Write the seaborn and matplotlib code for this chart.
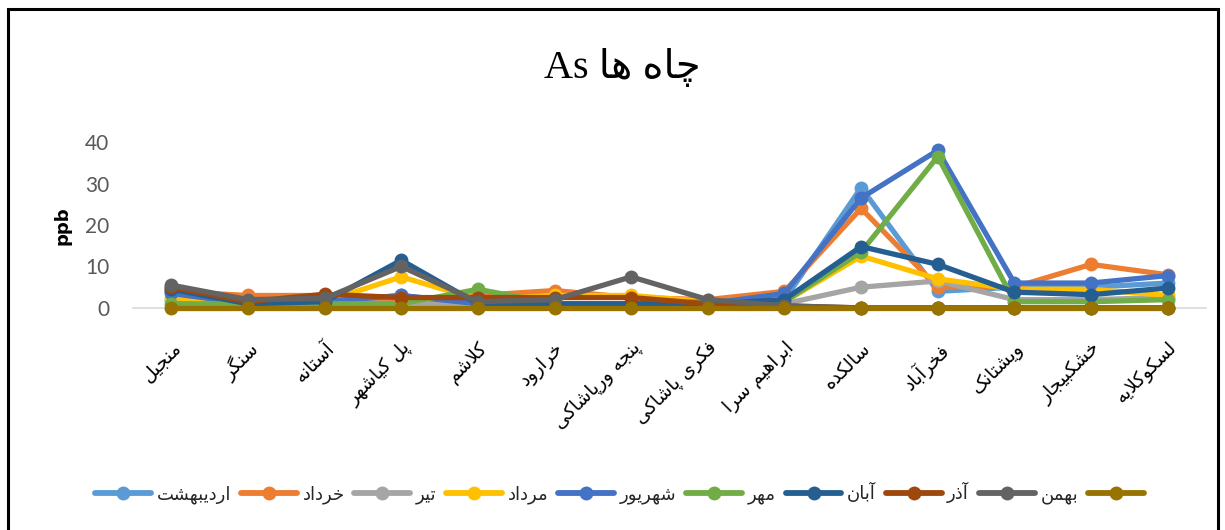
import matplotlib
matplotlib.use("Agg")
import matplotlib.pyplot as plt
from matplotlib.lines import Line2D
from matplotlib.patches import Rectangle
import numpy as np
import pandas as pd
import seaborn as sns

# ---------------------------------------------------------------- data
stations = ["منجیل", "سنگر", "آستانه", "پل کیاشهر", "کلاشم", "خرارود",
            "پنجه ورپاشاکی", "فکری پاشاکی", "ابراهیم سرا", "سالکده",
            "فخرآباد", "ویشتانک", "خشکبیجار", "لسکوکلایه"]

months = ["اردیبهشت", "خرداد", "تیر", "مرداد", "شهریور", "مهر",
          "آبان", "آذر", "بهمن", ""]

ordibehesht = [4.0, 1.5, 1.5, 3.0, 1.0, 1.0, 1.0, 1.0, 2.0, 29.0, 4.0, 5.0, 5.0, 6.0]
khordad     = [4.0, 3.0, 3.0, 2.0, 3.0, 4.2, 2.5, 2.0, 4.0, 24.0, 5.0, 5.0, 10.5, 8.0]
tir         = [2.0, 2.0, 1.5, 1.0, 1.0, 1.0, 1.0, 1.5, 1.0, 5.0, 6.5, 2.0, 2.0, 2.5]
mordad      = [2.5, 1.0, 1.5, 7.5, 2.0, 3.0, 3.0, 1.5, 1.5, 12.5, 7.0, 4.5, 4.5, 3.0]
shahrivar   = [3.5, 1.0, 1.5, 3.0, 1.0, 1.0, 1.0, 1.0, 3.5, 26.5, 38.0, 6.0, 6.0, 7.8]
mehr        = [1.0, 1.0, 1.0, 1.0, 4.5, 1.0, 1.0, 1.5, 1.5, 13.5, 36.5, 1.5, 1.5, 2.0]
aban        = [4.5, 1.0, 1.5, 11.5, 1.0, 1.0, 1.0, 1.0, 2.0, 14.8, 10.5, 3.8, 3.2, 4.8]
azar        = [5.0, 1.5, 3.3, 2.5, 2.5, 2.5, 2.5, 1.0, 0.5, 0.0, 0.0, 0.0, 0.0, 0.0]
bahman      = [5.5, 2.0, 2.3, 10.0, 1.5, 2.0, 7.5, 2.0, 0.5, 0.0, 0.0, 0.0, 0.0, 0.0]
esfand      = [0.0] * 14

series = [ordibehesht, khordad, tir, mordad, shahrivar, mehr, aban, azar, bahman, esfand]

colors = ["#5B9BD5", "#ED7D31", "#A5A5A5", "#FFC000", "#4472C4", "#70AD47",
          "#255E91", "#9E480E", "#636363", "#997300"]

title_text = "چاه ها As"
y_label = "ppb"
y_ticks = [0, 10, 20, 30, 40]

# ------------------------------------------------ Persian text shaping
# (isolated, final, initial, medial); two-form letters only join to the right
FORMS = {
    "ا": ("\uFE8D", "\uFE8E"), "آ": ("\uFE81", "\uFE82"),
    "ب": ("\uFE8F", "\uFE90", "\uFE91", "\uFE92"),
    "پ": ("\uFB56", "\uFB57", "\uFB58", "\uFB59"),
    "ت": ("\uFE95", "\uFE96", "\uFE97", "\uFE98"),
    "ث": ("\uFE99", "\uFE9A", "\uFE9B", "\uFE9C"),
    "ج": ("\uFE9D", "\uFE9E", "\uFE9F", "\uFEA0"),
    "چ": ("\uFB7A", "\uFB7B", "\uFB7C", "\uFB7D"),
    "ح": ("\uFEA1", "\uFEA2", "\uFEA3", "\uFEA4"),
    "خ": ("\uFEA5", "\uFEA6", "\uFEA7", "\uFEA8"),
    "د": ("\uFEA9", "\uFEAA"), "ذ": ("\uFEAB", "\uFEAC"),
    "ر": ("\uFEAD", "\uFEAE"), "ز": ("\uFEAF", "\uFEB0"),
    "ژ": ("\uFB8A", "\uFB8B"),
    "س": ("\uFEB1", "\uFEB2", "\uFEB3", "\uFEB4"),
    "ش": ("\uFEB5", "\uFEB6", "\uFEB7", "\uFEB8"),
    "ف": ("\uFED1", "\uFED2", "\uFED3", "\uFED4"),
    "ق": ("\uFED5", "\uFED6", "\uFED7", "\uFED8"),
    "ک": ("\uFB8E", "\uFB8F", "\uFB90", "\uFB91"),
    "گ": ("\uFB92", "\uFB93", "\uFB94", "\uFB95"),
    "ل": ("\uFEDD", "\uFEDE", "\uFEDF", "\uFEE0"),
    "م": ("\uFEE1", "\uFEE2", "\uFEE3", "\uFEE4"),
    "ن": ("\uFEE5", "\uFEE6", "\uFEE7", "\uFEE8"),
    "و": ("\uFEED", "\uFEEE"),
    "ه": ("\uFEE9", "\uFEEA", "\uFEEB", "\uFEEC"),
    "ی": ("\uFBFC", "\uFBFD", "\uFBFE", "\uFBFF"),
}
LAM_ALEF = {"ا": ("\uFEFB", "\uFEFC"), "آ": ("\uFEF5", "\uFEF6")}


def joins_left(ch):
    return ch in FORMS and len(FORMS[ch]) == 4


def shape_word(word):
    out = []
    i = 0
    n = len(word)
    while i < n:
        ch = word[i]
        prev_join = i > 0 and joins_left(word[i - 1])
        if ch == "ل" and i + 1 < n and word[i + 1] in LAM_ALEF:
            out.append(LAM_ALEF[word[i + 1]][1 if prev_join else 0])
            i += 2
            continue
        if ch not in FORMS:
            out.append(ch)
            i += 1
            continue
        forms = FORMS[ch]
        next_join = len(forms) == 4 and i + 1 < n and word[i + 1] in FORMS
        if prev_join and next_join:
            out.append(forms[3])
        elif prev_join:
            out.append(forms[1])
        elif next_join:
            out.append(forms[2])
        else:
            out.append(forms[0])
        i += 1
    return "".join(out)


def rtl(text):
    words = text.split(" ")
    vis = []
    for w in reversed(words):
        if any(c in FORMS for c in w):
            vis.append(shape_word(w)[::-1])
        else:
            vis.append(w)
    return " ".join(vis)


# ---------------------------------------------------------------- frame
sns.set_theme(style="white")
plt.rcParams["font.family"] = ["Lato", "DejaVu Sans"]

long = pd.DataFrame({
    "station": np.tile([rtl(s) for s in stations], len(series)),
    "month": np.repeat([f"m{k}" for k in range(len(series))], len(stations)),
    "value": np.concatenate(series),
})

fig = plt.figure(figsize=(12.25, 5.3), dpi=100)
ax = fig.add_axes([0.1086, 0.419, 0.8759, 0.313])

sns.lineplot(data=long, x="station", y="value", hue="month",
             palette=colors, sort=False, marker="o", markersize=10,
             markeredgewidth=0, linewidth=3.8, legend=False, ax=ax)
for ln in ax.lines:
    ln.set_clip_on(False)
    ln.set_solid_capstyle("round")
    ln.set_solid_joinstyle("round")

ax.set_xlim(-0.5, len(stations) - 0.5)
ax.set_ylim(0, 40)
ax.set_yticks(y_ticks)
ax.tick_params(axis="y", length=0, pad=17, labelsize=15, labelcolor="#595959")
ax.tick_params(axis="x", length=0, pad=22)
for lab in ax.get_xticklabels():
    lab.set_rotation(45)
    lab.set_rotation_mode("anchor")
    lab.set_ha("right")
    lab.set_va("top")
    lab.set_fontsize(13.5)
    lab.set_color("#000000")
    lab.set_family(["DejaVu Sans"])

for side in ("top", "left", "right"):
    ax.spines[side].set_visible(False)
ax.spines["bottom"].set_color("#D9D9D9")
ax.spines["bottom"].set_linewidth(1.2)
ax.spines["bottom"].set_zorder(0)
ax.set_xlabel("")
ax.set_ylabel("")
ax.grid(False)

fig.text(0.051, 0.575, y_label, rotation=90, ha="center", va="center",
         fontsize=13, fontweight="bold", color="#000000", family=["DejaVu Sans"])

fig.text(0.508, 0.872, rtl(title_text), ha="center", va="center",
         fontsize=29, color="#000000", family=["Liberation Serif", "DejaVu Sans"])

handles = [Line2D([0], [0], color=c, lw=4.2, marker="o", markersize=10,
                  markeredgewidth=0, solid_capstyle="round") for c in colors]
fig.legend(handles, [rtl(m) for m in months], loc="center",
           bbox_to_anchor=(0.508, 0.07), ncol=len(months), frameon=False,
           handlelength=3.1, handletextpad=0.3, columnspacing=0.55,
           prop={"family": ["DejaVu Sans"], "size": 13})

fig.patches.append(Rectangle((0.0065, -0.05), 0.988, 1.033, transform=fig.transFigure,
                             fill=False, edgecolor="#000000", linewidth=2.2))

fig.savefig("out.png", dpi=100)
